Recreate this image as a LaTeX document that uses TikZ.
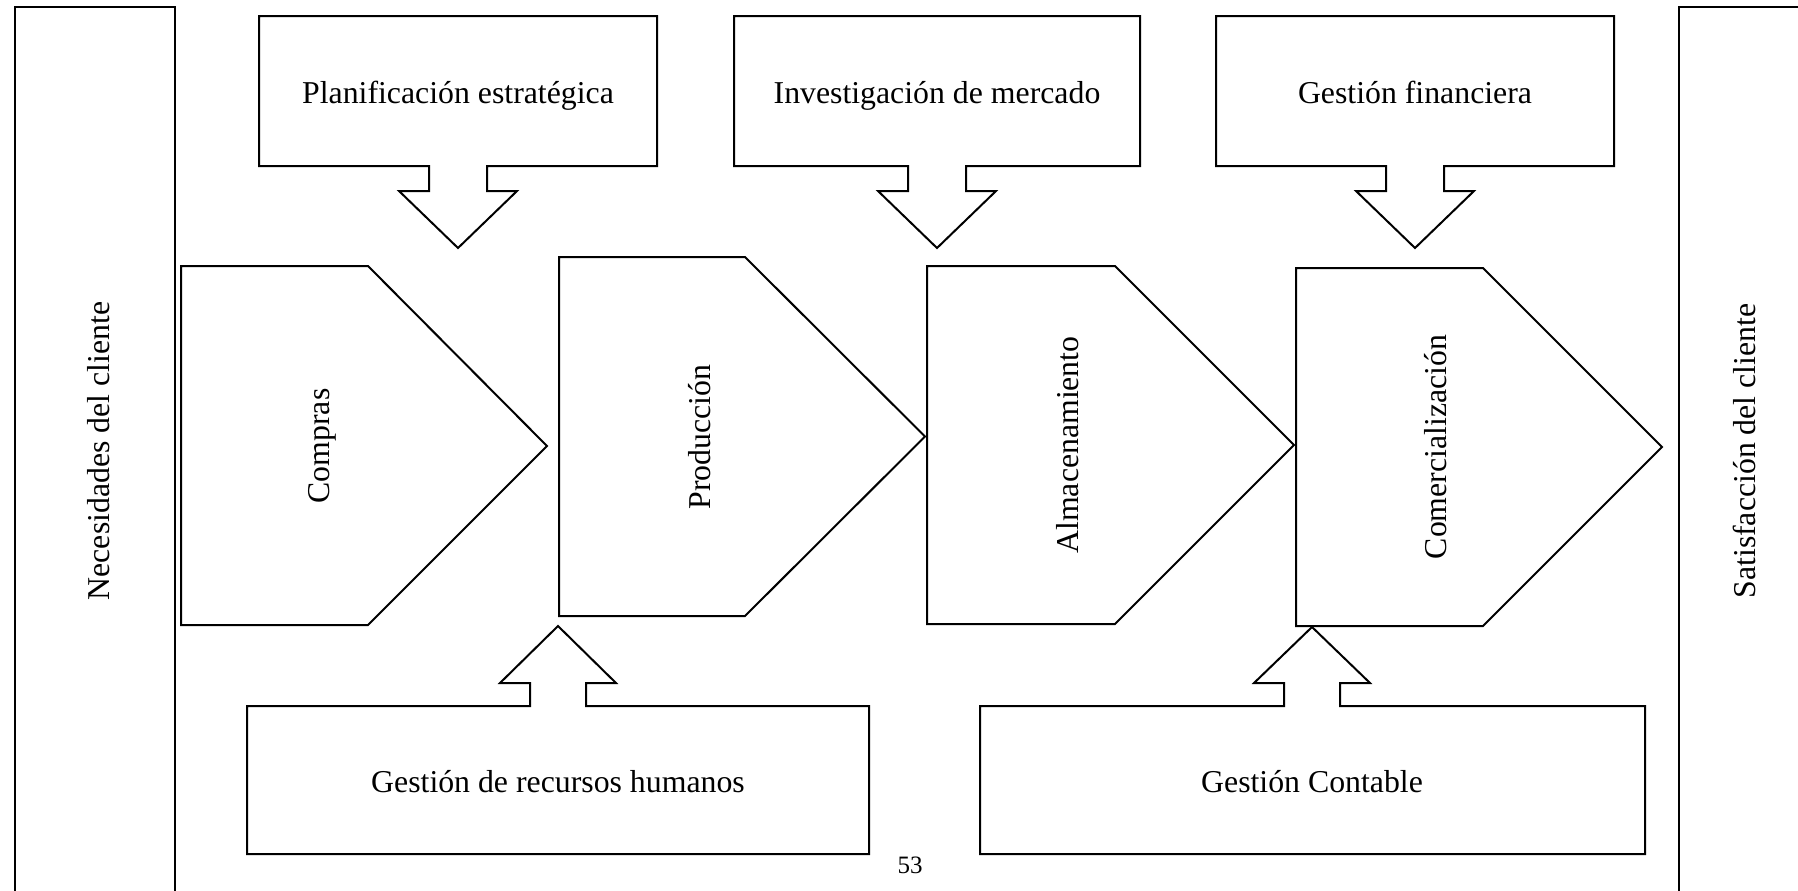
\documentclass[tikz,border=0pt]{standalone}
\usepackage{fontspec}
\setmainfont{Liberation Serif}
\begin{document}
\begin{tikzpicture}[x=0.5pt,y=-0.5pt,
  shp/.style={draw=black, line width=1pt, line join=miter},
  lbl/.style={font=\fontsize{15.9}{19}\selectfont, inner sep=0pt},
  hlbl/.style={lbl, anchor=base},
  vlbl/.style={lbl, rotate=90},
  pg/.style={font=\fontsize{12.5}{15}\selectfont, inner sep=0pt}]
\useasboundingbox (0,0) rectangle (1798,890);
\clip (0,0) rectangle (1798,890);
% side boxes
\draw[shp] (15,905) -- (15,7) -- (175,7) -- (175,905);
\draw[shp] (1679,905) -- (1679,7) -- (1815,7);
\node[vlbl] (nec) at (99,451) {Necesidades del cliente};
\node[vlbl] (sat) at (1744,451) {Satisfacción del cliente};
% top boxes with arrows
\draw[shp] (429,166) -- (259,166) -- (259,16) -- (657,16) -- (657,166) -- (487,166) -- (487,191) -- (517,191) -- (458,248) -- (399,191) -- (429,191) -- cycle;
\node[hlbl] (plan) at (458,103) {Planificación estratégica};
\draw[shp] (908,166) -- (734,166) -- (734,16) -- (1140,16) -- (1140,166) -- (966,166) -- (966,191) -- (996,191) -- (937,248) -- (878,191) -- (908,191) -- cycle;
\node[hlbl] (inv) at (937,103) {Investigación de mercado};
\draw[shp] (1386,166) -- (1216,166) -- (1216,16) -- (1614,16) -- (1614,166) -- (1444,166) -- (1444,191) -- (1474,191) -- (1415,248) -- (1356,191) -- (1386,191) -- cycle;
\node[hlbl] (fin) at (1415,103) {Gestión financiera};
% chevrons
\draw[shp] (181,266) -- (368,266) -- (547,446) -- (368,625) -- (181,625) -- cycle;
\node[vlbl] (comp) at (322,446) {Compras};
\draw[shp] (559,257) -- (745,257) -- (925,436.5) -- (745,616) -- (559,616) -- cycle;
\node[vlbl] (prod) at (700,437) {Producción};
\draw[shp] (927,266) -- (1115,266) -- (1294,445) -- (1115,624) -- (927,624) -- cycle;
\node[vlbl] (alm) at (1068,445) {Almacenamiento};
\draw[shp] (1296,268) -- (1483,268) -- (1662,447) -- (1483,626) -- (1296,626) -- cycle;
\node[vlbl] (com) at (1436,447) {Comercialización};
% bottom boxes with arrows
\draw[shp] (530,706) -- (247,706) -- (247,854) -- (869,854) -- (869,706) -- (586,706) -- (586,683) -- (616,683) -- (558,626) -- (500,683) -- (530,683) -- cycle;
\node[hlbl] (rh) at (558,792) {Gestión de recursos humanos};
\draw[shp] (1284,706) -- (980,706) -- (980,854) -- (1645,854) -- (1645,706) -- (1340,706) -- (1340,683) -- (1370,683) -- (1312,627) -- (1254,683) -- (1284,683) -- cycle;
\node[hlbl] (cont) at (1312,792) {Gestión Contable};
\node[pg] (num) at (910,865) {53};
\end{tikzpicture}
\end{document}
